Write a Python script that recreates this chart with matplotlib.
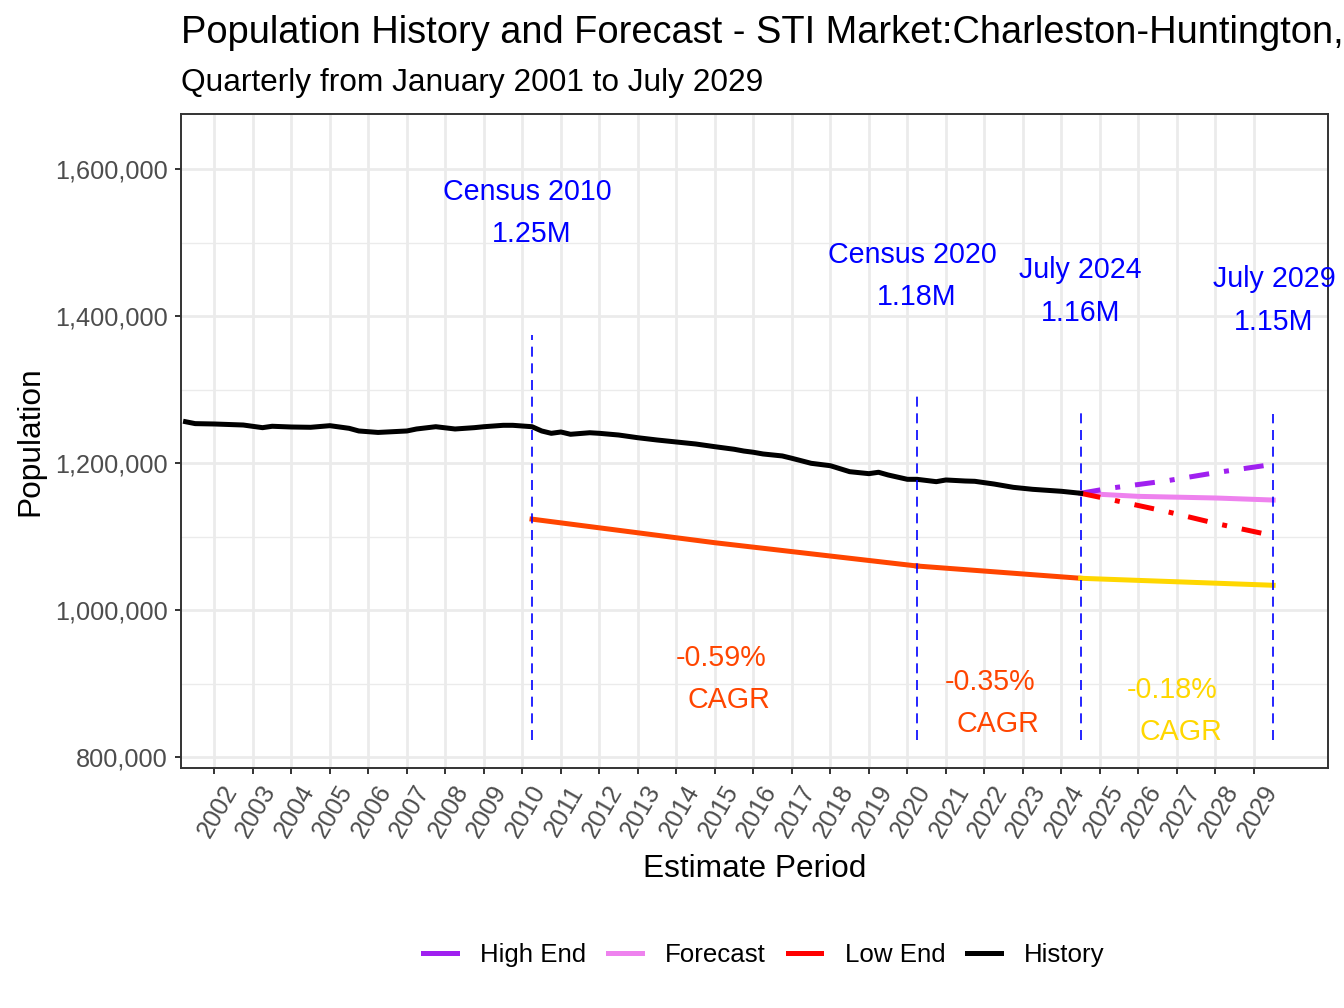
import matplotlib
matplotlib.use('Agg')
import matplotlib.pyplot as plt
import matplotlib.transforms as mtransforms
from matplotlib.lines import Line2D
from matplotlib.ticker import FuncFormatter, MultipleLocator

plt.rcParams['font.family'] = ['Liberation Sans', 'DejaVu Sans']

# history
hist_t = [2001.25, 2001.5, 2002.0, 2002.75, 2003.25, 2003.5, 2004.0, 2004.5,
          2005.0, 2005.5, 2005.75, 2006.25, 2007.0, 2007.25, 2007.75, 2008.25,
          2008.75, 2009.0, 2009.5, 2009.75, 2010.25, 2010.5, 2010.75, 2011.0,
          2011.25, 2011.75, 2012.0, 2012.5, 2013.0, 2013.5, 2014.0, 2014.5,
          2015.0, 2015.5, 2015.75, 2016.0, 2016.25, 2016.75, 2017.0, 2017.5,
          2018.0, 2018.5, 2019.0, 2019.25, 2019.5, 2020.0, 2020.25, 2020.75,
          2021.0, 2021.5, 2021.75, 2022.25, 2022.75, 2023.25, 2023.5, 2024.0,
          2024.5]
hist_pop = [1256600, 1254000, 1253500, 1252100, 1248500, 1250400, 1249400, 1249000,
            1251200, 1247600, 1244000, 1242000, 1244000, 1246700, 1249800, 1246700,
            1248500, 1249800, 1251700, 1251700, 1249800, 1244000, 1240800, 1242600,
            1239500, 1241600, 1240800, 1238500, 1234800, 1231700, 1229000, 1226300,
            1222600, 1219100, 1216700, 1215000, 1212700, 1210000, 1206800, 1200000,
            1196700, 1188600, 1185900, 1187800, 1184100, 1178200, 1178200, 1175000,
            1177300, 1175900, 1175500, 1171800, 1167300, 1164600, 1163700, 1161900,
            1159200]

# forecast scenarios
fc_t = [2024.5, 2026.0, 2028.0, 2029.5]
fc_pop = [1159200, 1155000, 1152800, 1150000]
high_t = [2024.5, 2025.25, 2026.75, 2028.0, 2029.5]
high_pop = [1159200, 1166000, 1176300, 1187200, 1198600]
low_t = [2024.5, 2025.25, 2026.75, 2028.0, 2029.5]
low_pop = [1159200, 1151000, 1134100, 1118300, 1101500]

# CAGR guide lines
cagr1_t = [2010.25, 2015.0, 2020.25]
cagr1_pop = [1124000, 1091900, 1060200]
cagr2_t = [2020.25, 2024.5]
cagr2_pop = [1060200, 1043500]
cagr3_t = [2024.5, 2029.5]
cagr3_pop = [1043500, 1034000]

# reference markers
mark_t = [2010.25, 2020.25, 2024.5, 2029.5]
mark_top = [1374800, 1295800, 1272600, 1267100]
mark_bottom = 823700
mark_names = ['Census 2010', 'Census 2020', 'July 2024', 'July 2029']
mark_values = ['1.25M', '1.18M', '1.16M', '1.15M']
name_x = [2010.12, 2020.13, 2024.5, 2029.53]
name_y = [1569200, 1483600, 1463200, 1450900]
value_y = [1512000, 1426400, 1404700, 1392300]

cagr_labels = ['-0.59%', '-0.35%', '-0.18%']
cagr_x = [2015.16, 2022.15, 2026.88]
cagr_y = [935000, 902300, 891500]
cagr_word_x = [2015.37, 2022.36, 2027.1]
cagr_word_y = [877800, 845200, 834700]
cagr_colors = ['#FF4500', '#FF4500', '#FFD700']

years = list(range(2002, 2030))

fig = plt.figure(figsize=(6.72, 5.04), dpi=200)
ax = fig.add_axes([181/1344, 1 - 768/1008, (1328 - 181)/1344, (768 - 114)/1008])

lw = 1.8
ax.plot(hist_t, hist_pop, color='black', lw=lw, zorder=4)
ax.plot(fc_t, fc_pop, color='violet', lw=lw, zorder=3)
dd = (0, (4, 3, 1, 3))
ax.plot(high_t, high_pop, color='#A020F0', lw=lw, ls=dd, zorder=3)
ax.plot(low_t, low_pop, color='red', lw=lw, ls=dd, zorder=3)
ax.plot(cagr1_t, cagr1_pop, color='#FF4500', lw=lw, zorder=3)
ax.plot(cagr2_t, cagr2_pop, color='#FF4500', lw=lw, zorder=3)
ax.plot(cagr3_t, cagr3_pop, color='#FFD700', lw=lw, zorder=3)

for i in range(len(mark_t)):
    ax.plot([mark_t[i], mark_t[i]], [mark_bottom, mark_top[i]], color='blue',
            lw=0.6, ls=(0, (6, 4)), zorder=5)
    ax.text(name_x[i], name_y[i], mark_names[i], color='blue', fontsize=10.3,
            ha='center', va='center')
    ax.text(mark_t[i], value_y[i], mark_values[i], color='blue', fontsize=10.3,
            ha='center', va='center')

for i in range(len(cagr_labels)):
    ax.text(cagr_x[i], cagr_y[i], cagr_labels[i], color=cagr_colors[i],
            fontsize=10.3, ha='center', va='center')
    ax.text(cagr_word_x[i], cagr_word_y[i], 'CAGR', color=cagr_colors[i],
            fontsize=10.3, ha='center', va='center')

ax.set_xlim(2001.132, 2030.925)
ax.set_ylim(785300, 1675400)
ax.set_xticks(years)
ax.set_xticklabels([str(y) for y in years], rotation=60, ha='right', va='top',
                   rotation_mode='anchor')
ax.yaxis.set_major_locator(MultipleLocator(200000))
ax.yaxis.set_minor_locator(MultipleLocator(100000))
ax.yaxis.set_major_formatter(FuncFormatter(lambda v, p: f'{int(v):,}'))
ax.tick_params(axis='both', which='major', labelsize=9.1, labelcolor='#4D4D4D',
               color='#333333', length=2.2, width=0.7, pad=2.5)
ax.tick_params(axis='y', which='minor', length=0)

# nudge the rotated year labels to the right, like the reference
shift = mtransforms.ScaledTranslation(7/200, 0, fig.dpi_scale_trans)
for tick in ax.xaxis.get_major_ticks():
    tick.label1.set_transform(tick.label1.get_transform() + shift)

ax.grid(True, which='major', color='#EBEBEB', lw=1.0, zorder=0)
ax.grid(True, which='minor', axis='y', color='#EBEBEB', lw=0.5, zorder=0)
ax.set_axisbelow(True)
for s in ax.spines.values():
    s.set_color('#333333')
    s.set_linewidth(0.7)

# title is cut at the right edge, as in the reference
fig.text(181/1344, 1 - 43/1008, 'Population History and Forecast - STI Market:Charleston-Huntington, WV-KY',
         fontsize=13.7, ha='left', va='baseline')
fig.text(181/1344, 1 - 91.5/1008, 'Quarterly from January 2001 to July 2029',
         fontsize=11.4, ha='left', va='baseline')
fig.text(754.5/1344, 1 - 877/1008, 'Estimate Period', fontsize=11.4,
         ha='center', va='baseline')
fig.text(30/1344, 1 - 441/1008, 'Population', fontsize=11.4, rotation=90,
         ha='center', va='center')

handles = [Line2D([0], [0], color='#A020F0', lw=lw),
           Line2D([0], [0], color='violet', lw=lw),
           Line2D([0], [0], color='red', lw=lw),
           Line2D([0], [0], color='black', lw=lw)]
fig.legend(handles, ['High End', 'Forecast', 'Low End', 'History'], ncol=4,
           loc='center', bbox_to_anchor=(764/1344, 1 - 955/1008), frameon=False,
           fontsize=9.3, handlelength=1.3, handletextpad=0.9, columnspacing=0.85)

fig.savefig('out.png', dpi=200)
